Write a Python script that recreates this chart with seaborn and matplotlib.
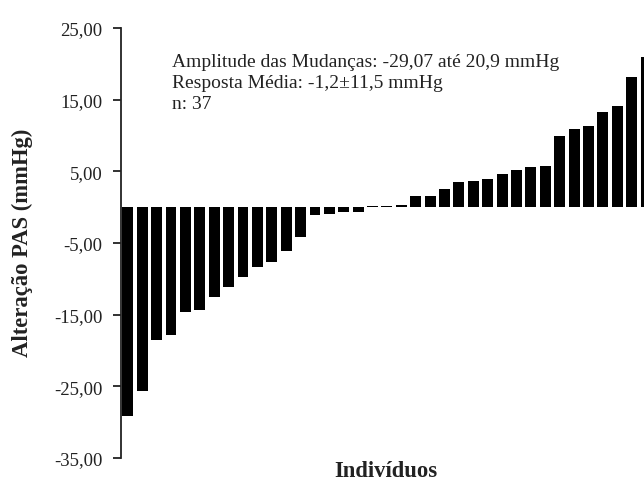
import matplotlib
matplotlib.use("Agg")
import matplotlib.pyplot as plt
import seaborn as sns
import pandas as pd
import numpy as np

individuos = list(range(1, 38))
alteracao_pas = [-29.07, -25.6, -18.6, -17.9, -14.65, -14.4, -12.55, -11.16, -9.77,
                 -8.37, -7.67, -6.05, -4.19, -1.16, -0.93, -0.7, -0.7,
                 0.15, 0.2, 0.3, 1.62, 1.62, 2.55, 3.49, 3.72, 3.95, 4.65, 5.12,
                 5.58, 5.81, 9.99, 10.92, 11.38, 13.25, 14.18, 18.13, 20.9]
y_ticks = [-35, -25, -15, -5, 5, 15, 25]
y_tick_labels = ["-35,00", "-25,00", "-15,00", "-5,00", "5,00", "15,00", "25,00"]
anotacao = ["Amplitude das Mudanças: -29,07 até 20,9 mmHg",
            "Resposta Média: -1,2±11,5 mmHg",
            "n: 37"]

df = pd.DataFrame({"ind": individuos, "val": alteracao_pas})

sns.set_style("white")
plt.rcParams["font.family"] = ["Liberation Serif", "DejaVu Serif"]

W, H = 644, 485
fig = plt.figure(figsize=(W / 100, H / 100), dpi=100)
ax = fig.add_axes([121.3 / W, 1 - 459 / H, 1 - 121.3 / W, (459 - 29) / H])

sns.barplot(data=df, x="ind", y="val", color="black", width=0.76,
            saturation=1, ax=ax, order=individuos)
for p in ax.patches:
    p.set_linewidth(0)

ax.set_ylim(-35, 25)
ax.set_xlim(-0.45, 35.85)
ax.set_yticks(y_ticks)
ax.set_yticklabels(y_tick_labels, fontsize=13.5)
ax.set_xticks([])

for s in ["top", "right", "bottom"]:
    ax.spines[s].set_visible(False)
ax.spines["left"].set_color("#222222")
ax.spines["left"].set_linewidth(1.3)
ax.tick_params(axis="y", direction="out", length=5.8, width=1.3, color="#222222",
               left=True, pad=8, labelcolor="#222222")

ax.set_ylabel("")
ax.set_xlabel("")
fig.text(22 / W, 1 - 243 / H, "Alteração PAS (mmHg)", fontsize=16.3,
         fontweight="bold", rotation=90, ha="center", va="center", color="#222222")
fig.text(386 / W, 1 - 472 / H, "Indivíduos", fontsize=16.3, fontweight="bold",
         ha="center", va="center", color="#222222")

baselines = [67.5, 88.5, 109]
for t, b in zip(anotacao, baselines):
    fig.text(172 / W, 1 - b / H, t, fontsize=14,
             ha="left", va="baseline", color="#222222")

fig.savefig("out.png", dpi=100)
